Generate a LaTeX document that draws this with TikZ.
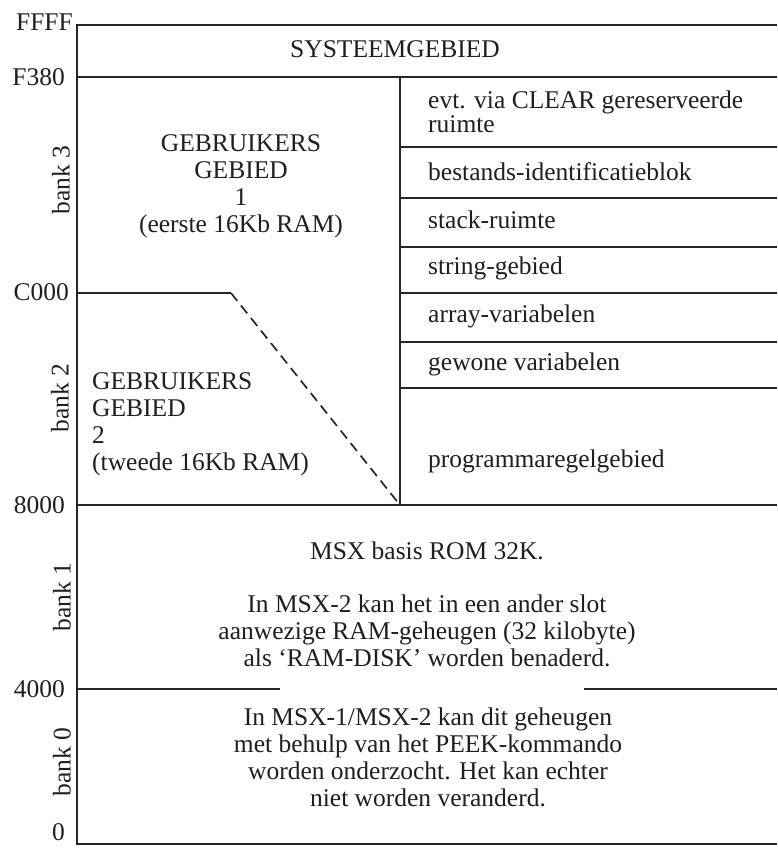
\documentclass[tikz,border=0pt]{standalone}
\usepackage{fontspec}
\setmainfont{Liberation Serif}
\begin{document}
\begin{tikzpicture}[x=1pt,y=-1pt,
  line/.style={line width=1.7pt, draw=black!85},
  lbl/.style={font=\fontsize{25.5}{27}\selectfont, inner sep=0pt, text=black!88},
  addr/.style={lbl, anchor=east},
  banklbl/.style={lbl, rotate=90},
  rowtxt/.style={lbl, anchor=west, align=left},
  ctr/.style={lbl, align=center}]
\useasboundingbox (0,0) rectangle (777,849);
% frame coordinates
\coordinate (TL) at (77,25);
\coordinate (TR) at (777,25);
\coordinate (FL) at (77,77);
\coordinate (FR) at (777,77);
\coordinate (FM) at (400,77);
\coordinate (CL) at (77,293);
\coordinate (CK) at (231,293);
\coordinate (EL) at (77,505);
\coordinate (EM) at (400,505);
\coordinate (ER) at (777,505);
\coordinate (QL) at (77,689);
\coordinate (QA) at (280,689);
\coordinate (QB) at (584,689);
\coordinate (QR) at (777,689);
\coordinate (BL) at (77,844);
\coordinate (BR) at (777,844);
\foreach \i/\y in {1/147,2/198,3/247,4/293,5/342,6/388}{
  \coordinate (RL\i) at (400,\y);
  \coordinate (RR\i) at (777,\y);
}
% lines
\draw[line] (TR) -- (TL) -- (BL) -- (BR);
\draw[line] (FL) -- (FR);
\draw[line] (FM) -- (EM);
\draw[line] (CL) -- (CK);
\draw[line, dash pattern=on 10pt off 6pt] (CK) -- (EM);
\draw[line] (EL) -- (ER);
\draw[line] (QL) -- (QA);
\draw[line] (QB) -- (QR);
\foreach \i in {1,...,6}{ \draw[line] (RL\i) -- (RR\i); }
% address labels
\node[addr] (aFFFF) at (73,22) {FFFF};
\node[addr] (aF380) at (65,77) {F380};
\node[addr] (aC000) at (69,292) {C000};
\node[addr] (a8000) at (65,505) {8000};
\node[addr] (a4000) at (65,689) {4000};
\node[addr] (a0) at (65,832) {0};
% bank labels
\node[banklbl] (b3) at (61,180) {bank 3};
\node[banklbl] (b2) at (60,398) {bank 2};
\node[banklbl] (b1) at (62,597) {bank 1};
\node[banklbl] (b0) at (62,762) {bank 0};
% regions
\node[ctr] (sys) at (395,49) {SYSTEEMGEBIED};
\node[ctr] (g1) at (241,186) {GEBRUIKERS\\GEBIED\\1\\(eerste 16Kb RAM)};
\node[lbl, anchor=west, align=left] (g2) at (92,424) {GEBRUIKERS\\GEBIED\\2\\(tweede 16Kb RAM)};
\node[rowtxt] (r1) at (428,112) {evt. via CLEAR gereserveerde\\[-3pt]ruimte};
\node[rowtxt] (r2) at (428,172) {bestands-identificatieblok};
\node[rowtxt] (r3) at (428,220) {stack-ruimte};
\node[rowtxt] (r4) at (428,268) {string-gebied};
\node[rowtxt] (r5) at (428,316) {array-variabelen};
\node[rowtxt] (r6) at (428,364) {gewone variabelen};
\node[rowtxt] (r7) at (428,461) {programmaregelgebied};
\node[ctr] (rom) at (427,551) {MSX basis ROM 32K.};
\node[ctr] (rom2) at (427,631) {In MSX-2 kan het in een ander slot\\aanwezige RAM-geheugen (32 kilobyte)\\als ‘RAM-DISK’ worden benaderd.};
\node[ctr] (b0t) at (428,757) {In MSX-1/MSX-2 kan dit geheugen\\met behulp van het PEEK-kommando\\worden onderzocht. Het kan echter\\niet worden veranderd.};
\end{tikzpicture}
\end{document}
